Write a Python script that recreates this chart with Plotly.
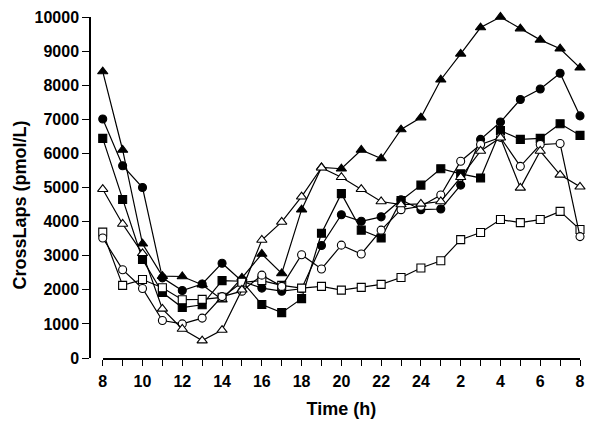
import plotly.graph_objects as go

hours = list(range(8, 33))
tick_vals = list(range(8, 33, 2))
tick_text = ["8", "10", "12", "14", "16", "18", "20", "22", "24", "2", "4", "6", "8"]
y_tick_vals = list(range(0, 10001, 1000))
y_tick_text = [str(v) for v in y_tick_vals]

tri_filled = [8400, 6100, 3350, 2400, 2390, 2150, 1710, 2350, 3050, 2480, 4350, 5590, 5550,
              6100, 5850, 6700, 7050, 8160, 8920, 9690, 10000, 9660, 9330, 9070, 8510]
circ_filled = [7010, 5640, 5000, 2350, 1980, 2170, 2780, 2250, 2050, 1960, 2030, 3300, 4200,
               4010, 4140, 4640, 4350, 4370, 5070, 6410, 6920, 7580, 7890, 8350, 7100]
sq_filled = [6440, 4650, 2890, 1920, 1480, 1560, 2270, 2250, 1570, 1330, 1740, 3660, 4820,
             3750, 3520, 4620, 5070, 5550, 5400, 5280, 6670, 6410, 6440, 6870, 6530]
tri_open = [4950, 3930, 3070, 1440, 850, 510, 820, 2000, 3460, 3990, 4730, 5580, 5300,
            4950, 4590, 4500, 4520, 4590, 5300, 6070, 6460, 4990, 6070, 5370, 5020]
circ_open = [3520, 2590, 2040, 1100, 1000, 1170, 1800, 1960, 2430, 2100, 3030, 2610, 3310,
             3050, 3750, 4350, 4450, 4780, 5770, 6260, 6470, 5620, 6260, 6290, 3560]
sq_open = [3690, 2130, 2300, 2060, 1710, 1720, 1780, 2220, 2270, 2130, 2050, 2100, 1990,
           2070, 2160, 2360, 2640, 2850, 3470, 3680, 4060, 3970, 4060, 4300, 3770]

series = [
    ("Subject 1", tri_filled, "triangle-up", "black"),
    ("Subject 2", circ_filled, "circle", "black"),
    ("Subject 3", sq_filled, "square", "black"),
    ("Subject 4", sq_open, "square", "white"),
    ("Subject 5", circ_open, "circle", "white"),
    ("Subject 6", tri_open, "triangle-up", "white"),
]

fig = go.Figure()
for name, vals, sym, fill in series:
    fig.add_trace(go.Scatter(
        x=hours, y=vals, name=name, mode="lines+markers",
        line=dict(color="black", width=1.2),
        marker=dict(symbol=sym, size=8 if sym != "triangle-up" else 9, color=fill,
                    line=dict(color="black", width=1.1)),
        cliponaxis=False,
    ))

font_family = "Arial, Liberation Sans, sans-serif"
# page body has an 8px default margin, so the figure is sized 8px smaller
fig.update_layout(
    width=589, height=424,
    margin=dict(l=82, r=17, t=9, b=74),
    paper_bgcolor="white", plot_bgcolor="white",
    showlegend=False,
    font=dict(family=font_family, color="black"),
    xaxis=dict(
        range=[8, 32], domain=[0.026, 1], automargin=False,
        tickmode="array", tickvals=tick_vals, ticktext=tick_text,
        ticks="outside", ticklen=6, tickwidth=1.3, tickcolor="black",
        minor=dict(dtick=1, tick0=8, ticks="outside", ticklen=6, tickwidth=1.3, tickcolor="black"),
        showline=True, linecolor="black", linewidth=1.5,
        showgrid=False, zeroline=False,
        tickfont=dict(size=16, family=font_family, weight="bold"),
        ticklabelstandoff=2,
        title=dict(text="<b>Time (h)</b>", font=dict(size=18, family=font_family), standoff=13),
    ),
    yaxis=dict(
        range=[0, 10000], anchor="free", position=0, automargin=False,
        tickmode="array", tickvals=y_tick_vals, ticktext=y_tick_text,
        ticklabeloverflow="allow",
        ticks="outside", ticklen=7, tickwidth=1.3, tickcolor="black",
        showline=True, linecolor="black", linewidth=1.5,
        showgrid=False, zeroline=False,
        tickfont=dict(size=16, family=font_family, weight="bold"),
    ),
    annotations=[dict(
        text="<b>CrossLaps (pmol/L)</b>", textangle=-90,
        xref="paper", yref="paper", x=-0.1429, y=0.45,
        xanchor="center", yanchor="middle", showarrow=False,
        font=dict(size=18, family=font_family, color="black"),
    )],
)

fig.write_html("out.html")
